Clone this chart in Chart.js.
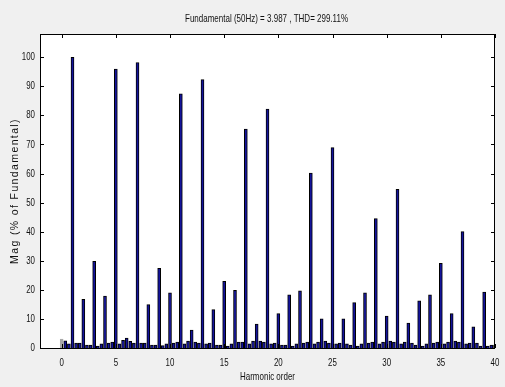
<!DOCTYPE html>
<html>
<head>
<meta charset="utf-8">
<script src="https://cdn.jsdelivr.net/npm/chart.js@4.4.0/dist/chart.umd.min.js"></script>
<style>
  html, body { margin: 0; padding: 0; background: #f0f0f0; }
  #wrap { width: 505px; height: 387px; }
</style>
</head>
<body>
<div id="wrap"><canvas id="fft" width="505" height="387"></canvas></div>
<script>
// FFT spectrum, magnitude in % of the fundamental.
// One bar per 1/3 harmonic order: the integer harmonics and two
// interharmonics between each pair.

const harmonicMag = [
    3.1, 100, 16.7, 29.8, 17.9, 95.9, 3.4, 98.2, 14.9, 27.4,
    19.0, 87.4, 6.2, 92.3, 13.2, 22.9, 19.8, 75.3, 8.2, 82.2,
    11.8, 18.3, 19.7, 60.2, 10.0, 68.9, 10.0, 15.6, 19.0, 44.5,
    11.0, 54.6, 8.6, 16.2, 18.3, 29.1, 11.8, 40.0, 7.3, 19.2,
    1.0,
];
// n + 1/3
const interMagA = [
    2.5, 1.7, 1.0, 0.7, 1.7, 1.4, 2.3, 1.7, 1.0, 0.8,
    1.7, 1.4, 2.0, 1.4, 1.0, 0.7, 2.0, 1.4, 2.4, 1.4,
    1.0, 0.7, 1.7, 1.4, 2.4, 1.4, 1.4, 0.7, 1.7, 1.4,
    2.4, 1.4, 1.7, 0.7, 1.7, 1.4, 2.4, 1.4, 1.7, 0.7,
];
// n + 2/3
const interMagB = [
    1.4, 1.7, 1.0, 1.4, 2.0, 2.6, 1.7, 1.7, 1.0, 1.4,
    2.0, 2.4, 1.7, 1.7, 1.0, 1.4, 2.0, 2.4, 2.0, 1.7,
    1.0, 1.4, 2.0, 2.0, 1.7, 1.7, 1.0, 1.4, 2.0, 2.0,
    2.0, 2.0, 1.0, 1.4, 2.0, 2.0, 2.0, 1.7, 0.7, 1.0,
];

const xTicks = [0, 5, 10, 15, 20, 25, 30, 35, 40];
const yTicks = [0, 10, 20, 30, 40, 50, 60, 70, 80, 90, 100];

const TITLE = 'Fundamental (50Hz) = 3.987 , THD= 299.11%';
const X_TITLE = 'Harmonic order';
const Y_TITLE = 'Mag (% of Fundamental)';
const FONT = "'Liberation Sans', Arial, sans-serif";

const points = [];
harmonicMag.forEach((m, n) => {
    points.push({ x: n, y: m });
    if (n < interMagA.length) {
        points.push({ x: n + 1 / 3, y: interMagA[n] });
        points.push({ x: n + 2 / 3, y: interMagB[n] });
    }
});
// the DC bar shows up as a faint grey line
const fillColors = points.map((p, i) => i === 0 ? '#a8a8a8' : '#14149c');
const edgeColors = points.map((p, i) => i === 0 ? '#a8a8a8' : '#000');

// the figure uses a condensed face; squeeze plain Liberation Sans to match.
// o.width: target width in px, o.sx: fixed horizontal scale,
// o.spread: reach o.width with letter spacing instead of scaling
function label(ctx, text, x, y, o) {
    ctx.save();
    ctx.font = `${o.size}px ${FONT}`;
    ctx.fillStyle = '#111';
    ctx.textAlign = o.align || 'center';
    ctx.textBaseline = 'middle';
    let sx = o.sx || 1;
    const w = ctx.measureText(text).width;
    if (o.spread && 'letterSpacing' in ctx) {
        ctx.letterSpacing = ((o.width - w) / text.length).toFixed(2) + 'px';
    } else if (o.width) {
        sx = o.width / w;
    }
    ctx.translate(x, y);
    if (o.rotate) ctx.rotate(-Math.PI / 2);
    ctx.scale(sx, 1);
    ctx.fillText(text, 0, 0);
    ctx.restore();
}

// white plot box, black frame, inward ticks on all four sides, MATLAB-ish text
const matlabAxes = {
    id: 'matlabAxes',
    beforeDatasetsDraw(chart) {
        const { ctx, chartArea: a } = chart;
        ctx.save();
        ctx.fillStyle = '#fff';
        ctx.fillRect(a.left, a.top, a.right - a.left, a.bottom - a.top);
        ctx.restore();
    },
    afterDatasetsDraw(chart) {
        const { ctx, chartArea: a, scales } = chart;
        const len = 4;
        ctx.save();
        ctx.strokeStyle = '#000';
        ctx.lineWidth = 1;
        ctx.beginPath();
        for (const v of xTicks) {
            const px = Math.round(scales.x.getPixelForValue(v)) + 0.5;
            ctx.moveTo(px, a.bottom); ctx.lineTo(px, a.bottom - len);
            ctx.moveTo(px, a.top); ctx.lineTo(px, a.top + len);
        }
        for (const v of yTicks) {
            const py = Math.round(scales.y.getPixelForValue(v)) + 0.5;
            ctx.moveTo(a.left, py); ctx.lineTo(a.left + len, py);
            ctx.moveTo(a.right, py); ctx.lineTo(a.right - len, py);
        }
        ctx.stroke();
        ctx.strokeRect(a.left + 0.5, a.top + 0.5, a.right - a.left - 1, a.bottom - a.top);
        ctx.restore();

        for (const v of xTicks) {
            label(ctx, String(v), scales.x.getPixelForValue(v), a.bottom + 15, { size: 11, sx: 0.72 });
        }
        for (const v of yTicks) {
            label(ctx, String(v), a.left - 5, scales.y.getPixelForValue(v), { size: 11, sx: 0.72, align: 'right' });
        }
        const cx = (a.left + a.right) / 2;
        label(ctx, TITLE, cx - 1, 19, { size: 11, width: 163 });
        label(ctx, X_TITLE, cx, a.bottom + 29, { size: 11, width: 55 });
        label(ctx, Y_TITLE, 15.5, (a.top + a.bottom) / 2, { size: 10.5, width: 146, spread: true, rotate: true });
    },
};

new Chart(document.getElementById('fft'), {
    type: 'bar',
    data: {
        datasets: [{
            data: points,
            backgroundColor: fillColors,
            borderColor: edgeColors,
            borderWidth: 1,
            borderSkipped: 'start',
            barThickness: 3,
        }],
    },
    options: {
        responsive: false,
        animation: false,
        layout: { padding: { left: 0, right: 10, top: 34, bottom: 0 } },
        plugins: {
            legend: { display: false },
            tooltip: { enabled: false },
            title: { display: false },
        },
        scales: {
            x: {
                type: 'linear',
                min: -2,
                max: 40,
                offset: false,
                grid: { display: false },
                border: { display: false },
                ticks: { display: false },
                afterBuildTicks: s => { s.ticks = xTicks.map(v => ({ value: v })); },
                afterFit: s => { s.height = 39; },
            },
            y: {
                min: 0,
                max: 108,
                grid: { display: false },
                border: { display: false },
                ticks: { display: false },
                afterBuildTicks: s => { s.ticks = yTicks.map(v => ({ value: v })); },
                afterFit: s => { s.width = 40; },
            },
        },
    },
    plugins: [matlabAxes],
});
</script>
</body>
</html>
